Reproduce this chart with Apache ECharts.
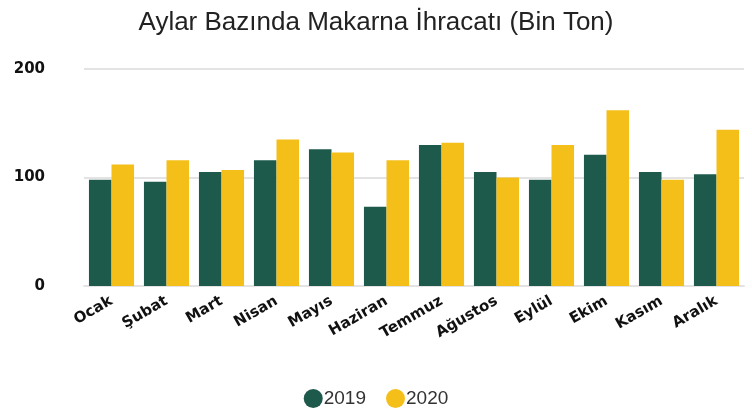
<!DOCTYPE html>
<html>
<head>
<meta charset="utf-8">
<script src="https://cdn.jsdelivr.net/npm/echarts@6/dist/echarts.min.js"></script>
<style>
  html, body { margin: 0; padding: 0; background: #fff; }
  #chart { width: 752px; height: 416px; }
</style>
</head>
<body>
<div id="chart"></div>
<script>
const months = ['Ocak', 'Şubat', 'Mart', 'Nisan', 'Mayıs', 'Haziran', 'Temmuz', 'Ağustos', 'Eylül', 'Ekim', 'Kasım', 'Aralık']
const exports2019 = [98, 96, 105, 116, 126, 73, 130, 105, 98, 121, 105, 103]
const exports2020 = [112, 116, 107, 135, 123, 116, 132, 100, 130, 162, 98, 144]
const yTicks = [0, 100, 200]

const chart = echarts.init(document.getElementById('chart'))
chart.setOption({
  animation: false,
  title: {
    text: 'Aylar Bazında Makarna İhracatı (Bin Ton)',
    left: 'center',
    top: 5,
    textStyle: {
      fontFamily: 'Liberation Sans, sans-serif',
      fontWeight: 'normal',
      fontSize: 26,
      color: '#222'
    }
  },
  legend: {
    bottom: 3,
    left: 'center',
    icon: 'circle',
    itemWidth: 19,
    itemHeight: 19,
    itemGap: 20,
    textStyle: {
      fontFamily: 'Liberation Sans, sans-serif',
      fontSize: 19,
      color: '#333',
      padding: [0, 0, 0, -4]
    }
  },
  grid: {
    left: 84,
    right: 8,
    top: 69,
    bottom: 130
  },
  xAxis: {
    type: 'category',
    data: months,
    axisTick: { show: false },
    axisLine: { lineStyle: { color: '#e3e3e3', width: 2 } },
    axisLabel: {
      rotate: 30,
      margin: 14,
      fontFamily: 'DejaVu Sans, sans-serif',
      fontWeight: 'bold',
      fontSize: 15,
      color: '#111',
      interval: 0
    }
  },
  yAxis: {
    type: 'value',
    min: yTicks[0],
    max: yTicks[yTicks.length - 1],
    interval: 100,
    axisLine: { show: false },
    axisTick: { show: false },
    splitLine: { lineStyle: { color: '#e3e3e3', width: 2 } },
    axisLabel: {
      margin: 39,
      fontFamily: 'DejaVu Sans, sans-serif',
      fontWeight: 'bold',
      fontSize: 15,
      color: '#111'
    }
  },
  series: [
    {
      name: '2019',
      type: 'bar',
      data: exports2019,
      barGap: '0%',
      barCategoryGap: '18%',
      itemStyle: { color: '#1e5a4b' }
    },
    {
      name: '2020',
      type: 'bar',
      data: exports2020,
      itemStyle: { color: '#f4bf18' }
    }
  ]
})
</script>
</body>
</html>
